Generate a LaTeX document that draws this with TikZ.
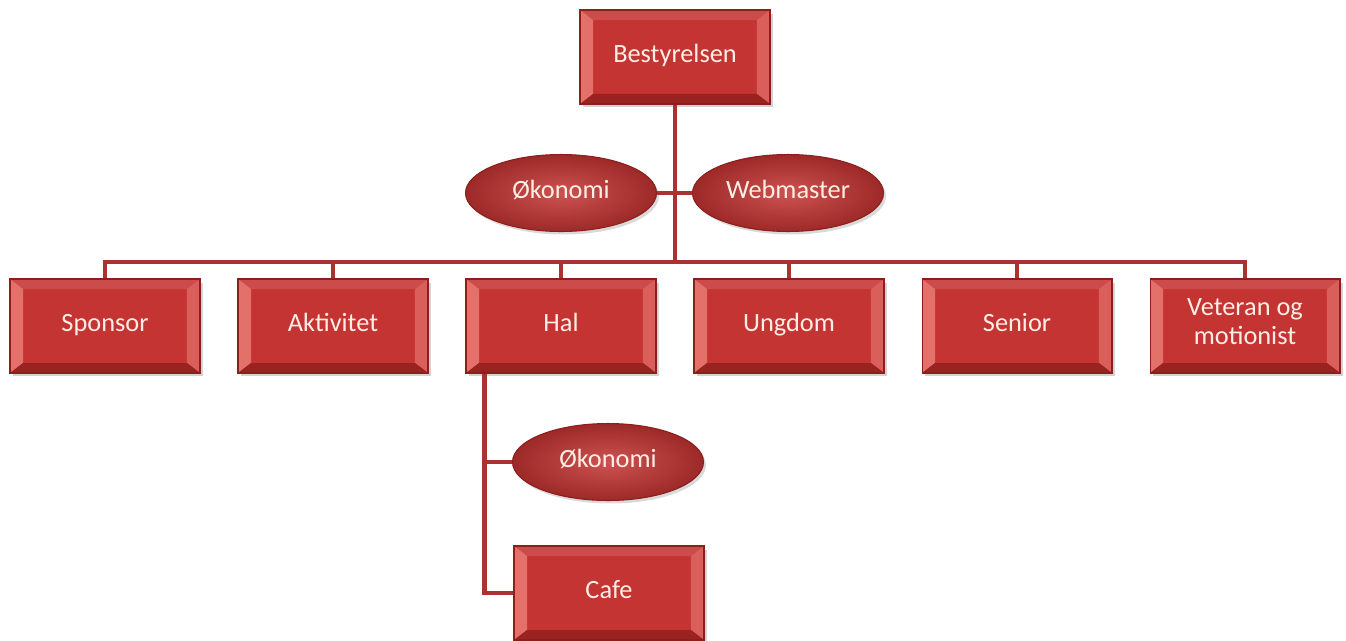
\documentclass[tikz,border=0pt]{standalone}
\usepackage{fontspec}
\setmainfont{Carlito}
\usetikzlibrary{calc, shapes.geometric, shadows}
\definecolor{boxred}{RGB}{196,52,50}
\definecolor{boxlight}{RGB}{228,112,106}
\definecolor{boxdark}{RGB}{140,30,28}
\definecolor{linered}{RGB}{170,50,48}
\definecolor{textpink}{RGB}{255,238,230}
\tikzset{
  unitbox/.style={rectangle, draw=boxdark, line width=0.6pt, fill=boxred,
    minimum width=3.8cm, minimum height=1.88cm, align=center, text=textpink,
    font=\fontsize{15}{17}\selectfont, execute at begin node={\strut},
    drop shadow={opacity=0.35, shadow xshift=0.06cm, shadow yshift=-0.07cm},
    path picture={
      \coordinate (nw) at (path picture bounding box.north west);
      \coordinate (ne) at (path picture bounding box.north east);
      \coordinate (sw) at (path picture bounding box.south west);
      \coordinate (se) at (path picture bounding box.south east);
      \coordinate (inw) at ($(nw)+(0.26cm,-0.2cm)$);
      \coordinate (ine) at ($(ne)+(-0.26cm,-0.2cm)$);
      \coordinate (isw) at ($(sw)+(0.26cm,0.2cm)$);
      \coordinate (ise) at ($(se)+(-0.26cm,0.2cm)$);
      \fill[boxred!88!white] (nw) -- (ne) -- (ine) -- (inw) -- cycle;
      \fill[boxlight] (nw) -- (inw) -- (isw) -- (sw) -- cycle;
      \fill[boxlight!70!boxred] (ne) -- (se) -- (ise) -- (ine) -- cycle;
      \fill[boxdark!75!boxred] (sw) -- (isw) -- (ise) -- (se) -- cycle;
    }},
  rolenode/.style={ellipse, draw=boxdark, line width=0.6pt,
    inner color=boxred!85!white, outer color=boxred!80!black,
    minimum width=3.82cm, minimum height=1.54cm, inner sep=0pt,
    text=textpink, font=\fontsize{15}{17}\selectfont, execute at begin node={\strut},
    drop shadow={opacity=0.3, shadow xshift=0.05cm, shadow yshift=-0.06cm}},
  link/.style={draw=linered, line width=2.6pt}
}
\begin{document}
\begin{tikzpicture}[x=0.02cm, y=-0.02cm]
  \useasboundingbox (0,0) rectangle (1346,640);

  \node[unitbox] (board) at (675,57) {Bestyrelsen};
  \node[rolenode] (economy) at (561,193) {Økonomi};
  \node[rolenode] (webmaster) at (788,193) {Webmaster};

  \foreach \n/\x/\t in {sponsor/105/Sponsor, activity/333/Aktivitet, hall/561/Hal,
      youth/789/Ungdom, senior/1017/Senior, veteran/1245/{Veteran og\\motionist}}{
    \node[unitbox] (\n) at (\x,326) {\t};
  }

  \node[rolenode] (halleconomy) at (608,462) {Økonomi};
  \node[unitbox] (cafe) at (609,593) {Cafe};

  % connectors
  \coordinate (bus) at (675,262);
  \draw[link] (board.south) -- (bus);
  \draw[link] (economy.east) -- (economy.east -| board.south);
  \draw[link] (webmaster.west) -- (webmaster.west -| board.south);
  \foreach \n in {sponsor, activity, hall, youth, senior, veteran}{
    \draw[link] (bus) -| (\n.north);
  }
  \coordinate (hallleg) at ($(hall.south west)+(0.38cm,0)$);
  \draw[link] (hallleg) |- (cafe.west);
  \draw[link] (hallleg |- halleconomy.west) -- (halleconomy.west);
\end{tikzpicture}
\end{document}
